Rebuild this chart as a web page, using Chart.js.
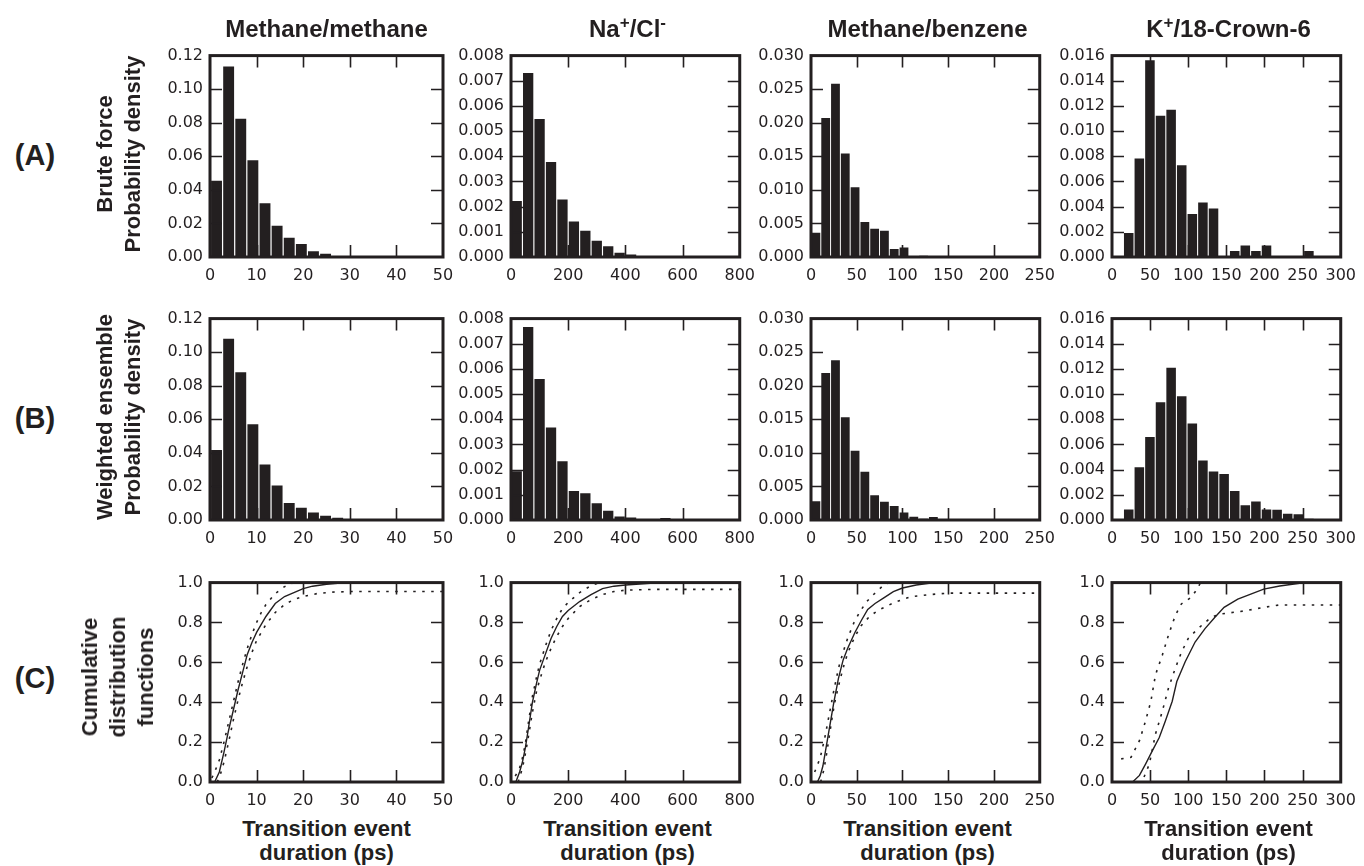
<!DOCTYPE html>
<html>
<head>
<meta charset="utf-8">
<script src="https://cdn.jsdelivr.net/npm/chart.js@4.4.1/dist/chart.umd.min.js"></script>
<style>
body { margin: 0; background: #fff; }
#fig { position: relative; width: 1364px; height: 866px; overflow: hidden; font-family: "Liberation Sans", Arial, sans-serif; color: #231f20; }
#fig canvas { position: absolute; }
.title { position: absolute; width: 300px; text-align: center; font-weight: bold; font-size: 24px; line-height: 28px; }
.title sup { font-size: 17px; line-height: 0; }
.row { position: absolute; font-weight: bold; font-size: 29px; transform: translate(-50%, -50%); }
.ylab { position: absolute; font-weight: bold; font-size: 22px; line-height: 28px; text-align: center; white-space: nowrap; transform: translate(-50%, -50%) rotate(-90deg); }
.xlab { position: absolute; width: 300px; text-align: center; font-weight: bold; font-size: 22px; line-height: 24px; }
</style>
</head>
<body>
<div id="fig"></div>
<script>
// columns: Methane/methane, Na+/Cl-, Methane/benzene, K+/18-Crown-6
const columnTitles = ['Methane/methane', 'Na<sup>+</sup>/Cl<sup>-</sup>', 'Methane/benzene', 'K<sup>+</sup>/18-Crown-6'];
const xMax = [50, 800, 250, 300];
const xStep = [10, 200, 50, 50];
const densMax = [0.12, 0.008, 0.03, 0.016];
const densStep = [0.02, 0.001, 0.005, 0.002];
const densDecimals = [2, 3, 3, 3];

// histogram bins (ps): first edge and width
const binStart = [0.1, 0, 0, 15];
const binWidth = [2.6, 40, 10.7, 13.9];

// (A) brute force probability density
const mmBrute = [0.0454, 0.1135, 0.0824, 0.0576, 0.0321, 0.0186, 0.0114, 0.0078, 0.0035, 0.0020, 0.0006, 0.0003, 0.0002];
const ncBrute = [0.00222, 0.00731, 0.00548, 0.00377, 0.00228, 0.00141, 0.00104, 0.00065, 0.00043, 0.00017, 0.0001, 0.00003, 0.00002];
const mbBrute = [0.0036, 0.0207, 0.0258, 0.0154, 0.0104, 0.0052, 0.0042, 0.0039, 0.0012, 0.0014, 0, 0.0002];
const kcBrute = [0.00191, 0.00782, 0.01563, 0.01123, 0.0117, 0.00729, 0.00341, 0.00433, 0.00386, 0, 0.00047, 0.00092, 0.00047, 0.00092, 0, 0, 0, 0.00047];

// (B) weighted ensemble probability density
const mmWE = [0.0417, 0.108, 0.088, 0.057, 0.033, 0.0205, 0.0102, 0.0073, 0.0045, 0.0026, 0.0014, 0.0006, 0.0003];
const ncWE = [0.00194, 0.00767, 0.0056, 0.00367, 0.00233, 0.00115, 0.00106, 0.00067, 0.00037, 0.00014, 0.0001, 0.00003, 0.00002, 0.00008, 0.00001];
const mbWE = [0.0028, 0.0219, 0.0238, 0.0153, 0.0103, 0.0072, 0.0037, 0.0027, 0.0021, 0.0011, 0.0005, 0.0002, 0.00045];
const kcWE = [0.00084, 0.0042, 0.0066, 0.00936, 0.0121, 0.00984, 0.00766, 0.00472, 0.00386, 0.00365, 0.00231, 0.00118, 0.00147, 0.00084, 0.00081, 0.0005, 0.00045, 0.0001];

// (C) cumulative distribution functions: solid + two dotted bounds
const mmCdfX = [1, 2, 3, 4, 5, 6, 7, 8, 9, 10, 12, 14, 16, 18, 20, 22, 25, 28, 30, 50];
const mmCdf = [0, 0.05, 0.15, 0.26, 0.36, 0.46, 0.55, 0.64, 0.70, 0.75, 0.83, 0.895, 0.93, 0.95, 0.97, 0.982, 0.992, 0.998, 1.0, 1.0];
const mmUpX = [0.4, 1, 2, 3, 4, 5, 6, 7, 8, 9, 10, 11, 12, 14, 16, 18];
const mmUp = [0.02, 0.05, 0.11, 0.2, 0.3, 0.4, 0.5, 0.59, 0.67, 0.74, 0.8, 0.85, 0.89, 0.945, 0.98, 1.0];
const mmLoX = [1.5, 2, 3, 4, 5, 6, 7, 8, 9, 10, 12, 14, 16, 18, 20, 23, 26, 30, 50];
const mmLo = [0, 0.02, 0.1, 0.2, 0.31, 0.41, 0.5, 0.58, 0.65, 0.71, 0.79, 0.85, 0.89, 0.915, 0.93, 0.945, 0.952, 0.955, 0.955];

const ncCdfX = [17, 30, 40, 50, 60, 75, 90, 100, 120, 140, 160, 180, 200, 240, 280, 320, 360, 400, 500, 800];
const ncCdf = [0, 0.05, 0.1, 0.17, 0.26, 0.4, 0.5, 0.56, 0.64, 0.72, 0.78, 0.83, 0.86, 0.905, 0.94, 0.97, 0.982, 0.988, 0.998, 1.0];
const ncUpX = [15, 30, 40, 50, 60, 75, 90, 100, 120, 140, 160, 180, 200, 240, 280, 310];
const ncUp = [0.03, 0.07, 0.12, 0.19, 0.29, 0.43, 0.53, 0.59, 0.68, 0.76, 0.82, 0.87, 0.9, 0.95, 0.985, 1.0];
const ncLoX = [25, 40, 50, 60, 75, 90, 100, 120, 140, 160, 180, 200, 240, 280, 320, 360, 400, 500, 800];
const ncLo = [0, 0.07, 0.14, 0.22, 0.35, 0.46, 0.51, 0.6, 0.67, 0.73, 0.78, 0.82, 0.88, 0.915, 0.94, 0.955, 0.962, 0.966, 0.966];

const mbCdfX = [7, 10, 13, 16, 19, 22, 25, 30, 35, 40, 48, 55, 62, 70, 80, 90, 100, 115, 135, 250];
const mbCdf = [0, 0.03, 0.08, 0.16, 0.24, 0.32, 0.4, 0.52, 0.61, 0.67, 0.75, 0.81, 0.865, 0.895, 0.925, 0.955, 0.973, 0.988, 1.0, 1.0];
const mbUpX = [4, 10, 15, 20, 25, 30, 35, 40, 47, 53, 60, 66, 73, 80, 86];
const mbUp = [0.05, 0.12, 0.22, 0.34, 0.46, 0.57, 0.65, 0.72, 0.8, 0.85, 0.9, 0.93, 0.96, 0.99, 1.0];
const mbLoX = [10.5, 14, 17, 20, 23, 26, 30, 35, 40, 48, 55, 64, 73, 82, 91, 100, 110, 130, 150, 250];
const mbLo = [0, 0.06, 0.14, 0.23, 0.32, 0.4, 0.48, 0.57, 0.645, 0.73, 0.785, 0.83, 0.86, 0.88, 0.9, 0.915, 0.93, 0.94, 0.947, 0.947];

const kcCdfX = [27, 36, 44, 53, 62, 70, 79, 85, 96, 109, 122, 135, 147, 165, 182, 199, 220, 246, 252];
const kcCdf = [0, 0.033, 0.09, 0.157, 0.223, 0.306, 0.405, 0.504, 0.603, 0.702, 0.769, 0.826, 0.876, 0.917, 0.942, 0.967, 0.983, 0.997, 1.0];
const kcUpX = [12, 25, 36, 44, 51, 57, 66, 74, 83, 91, 104, 113, 116];
const kcUp = [0.116, 0.124, 0.207, 0.306, 0.405, 0.537, 0.636, 0.736, 0.835, 0.893, 0.926, 0.975, 1.0];
const kcLoX = [42, 49, 57, 66, 74, 83, 91, 100, 113, 130, 143, 160, 177, 199, 220, 300];
const kcLo = [0.025, 0.09, 0.24, 0.355, 0.47, 0.57, 0.65, 0.72, 0.77, 0.826, 0.843, 0.851, 0.86, 0.876, 0.888, 0.888];

const bruteRows = [mmBrute, ncBrute, mbBrute, kcBrute];
const weRows = [mmWE, ncWE, mbWE, kcWE];
const cdfRows = [
    [[mmCdfX, mmCdf], [mmUpX, mmUp], [mmLoX, mmLo]],
    [[ncCdfX, ncCdf], [ncUpX, ncUp], [ncLoX, ncLo]],
    [[mbCdfX, mbCdf], [mbUpX, mbUp], [mbLoX, mbLo]],
    [[kcCdfX, kcCdf], [kcUpX, kcUp], [kcLoX, kcLo]]
];

// layout of the plot areas on the page
const ink = '#231f20';
const plotLeft = [210, 511, 811, 1112];
const plotW = 233;
const plotTop = [53, 316, 580];
const plotH = [204, 204, 202];
const padL = 80, padR = 20, padT = 14, padB = 34;

Chart.defaults.font.family = '"DejaVu Sans", sans-serif';
Chart.defaults.font.size = 16;
Chart.defaults.color = ink;

const fig = document.getElementById('fig');

// box frame with inward ticks on all four sides
const framePlugin = {
    id: 'frame',
    afterDraw(chart) {
        const ctx = chart.ctx;
        const a = chart.chartArea;
        const x = chart.scales.x, y = chart.scales.y;
        const eps = 1e-9;
        ctx.save();
        ctx.strokeStyle = ink;
        ctx.lineWidth = 1.6;
        ctx.beginPath();
        x.ticks.forEach(t => {
            if (t.value <= x.min + eps || t.value >= x.max - eps) return;
            const px = Math.round(x.getPixelForValue(t.value)) + 0.5;
            ctx.moveTo(px, a.bottom); ctx.lineTo(px, a.bottom - 12);
            ctx.moveTo(px, a.top); ctx.lineTo(px, a.top + 12);
        });
        y.ticks.forEach(t => {
            if (t.value <= y.min + eps || t.value >= y.max - eps) return;
            const py = Math.round(y.getPixelForValue(t.value)) + 0.5;
            ctx.moveTo(a.left, py); ctx.lineTo(a.left + 12, py);
            ctx.moveTo(a.right, py); ctx.lineTo(a.right - 12, py);
        });
        ctx.stroke();
        ctx.lineWidth = 3;
        ctx.strokeRect(a.left, a.top, a.right - a.left, a.bottom - a.top);
        ctx.restore();
    }
};

function makeCanvas(row, col) {
    const c = document.createElement('canvas');
    c.width = padL + plotW + padR;
    c.height = padT + plotH[row] + padB;
    c.style.left = (plotLeft[col] - padL) + 'px';
    c.style.top = (plotTop[row] - padT) + 'px';
    fig.appendChild(c);
    return c;
}

function makeScales(col, yMax, yStep, yDec) {
    return {
        x: {
            type: 'linear', min: 0, max: xMax[col], offset: false,
            grid: { display: false, drawTicks: false, offset: false },
            border: { display: false },
            ticks: { stepSize: xStep[col], padding: 9, autoSkip: false, maxRotation: 0 },
            afterFit: s => { s.height = padB; }
        },
        y: {
            type: 'linear', min: 0, max: yMax,
            grid: { display: false, drawTicks: false },
            border: { display: false },
            ticks: { stepSize: yStep, padding: 7, autoSkip: false, callback: v => v.toFixed(yDec) },
            afterFit: s => { s.width = padL; }
        }
    };
}

const baseOptions = {
    responsive: false,
    animation: false,
    events: [],
    layout: { padding: { left: 0, right: padR, top: padT, bottom: 0 } },
    plugins: { legend: { display: false }, tooltip: { enabled: false } }
};

function histogram(row, col, values) {
    const data = values.map((v, i) => ({ x: binStart[col] + binWidth[col] * (i + 0.5), y: v }));
    new Chart(makeCanvas(row, col), {
        type: 'bar',
        data: {
            datasets: [{
                data: data,
                backgroundColor: ink,
                borderWidth: 0,
                barPercentage: 0.9,
                categoryPercentage: 1
            }]
        },
        options: Object.assign({}, baseOptions, {
            scales: makeScales(col, densMax[col], densStep[col], densDecimals[col])
        }),
        plugins: [framePlugin]
    });
}

function cdfPanel(col) {
    const curves = cdfRows[col];
    const datasets = curves.map((c, k) => ({
        data: c[0].map((x, i) => ({ x: x, y: c[1][i] })),
        showLine: true,
        borderColor: ink,
        borderWidth: k === 0 ? 1.4 : 1.6,
        borderDash: k === 0 ? [] : [2.5, 6.5],
        pointRadius: 0,
        tension: 0
    }));
    new Chart(makeCanvas(2, col), {
        type: 'scatter',
        data: { datasets: datasets },
        options: Object.assign({}, baseOptions, {
            scales: makeScales(col, 1.0, 0.2, 1)
        }),
        plugins: [framePlugin]
    });
}

for (let col = 0; col < 4; col++) {
    histogram(0, col, bruteRows[col]);
    histogram(1, col, weRows[col]);
    cdfPanel(col);
}

// text: titles, row letters, axis titles
function addDiv(cls, html, left, top) {
    const d = document.createElement('div');
    d.className = cls;
    d.innerHTML = html;
    d.style.left = left + 'px';
    d.style.top = top + 'px';
    fig.appendChild(d);
}

columnTitles.forEach((t, col) => {
    const cx = plotLeft[col] + plotW / 2;
    addDiv('title', t, cx - 150, 15);
    addDiv('xlab', 'Transition event<br>duration (ps)', cx - 150, 817);
});

addDiv('row', '(A)', 35, 155);
addDiv('row', '(B)', 35, 418);
addDiv('row', '(C)', 35, 678);

addDiv('ylab', 'Brute force<br>Probability density', 119, 154);
addDiv('ylab', 'Weighted ensemble<br>Probability density', 119, 417);
addDiv('ylab', 'Cumulative<br>distribution<br>functions', 118, 677);
</script>
</body>
</html>
